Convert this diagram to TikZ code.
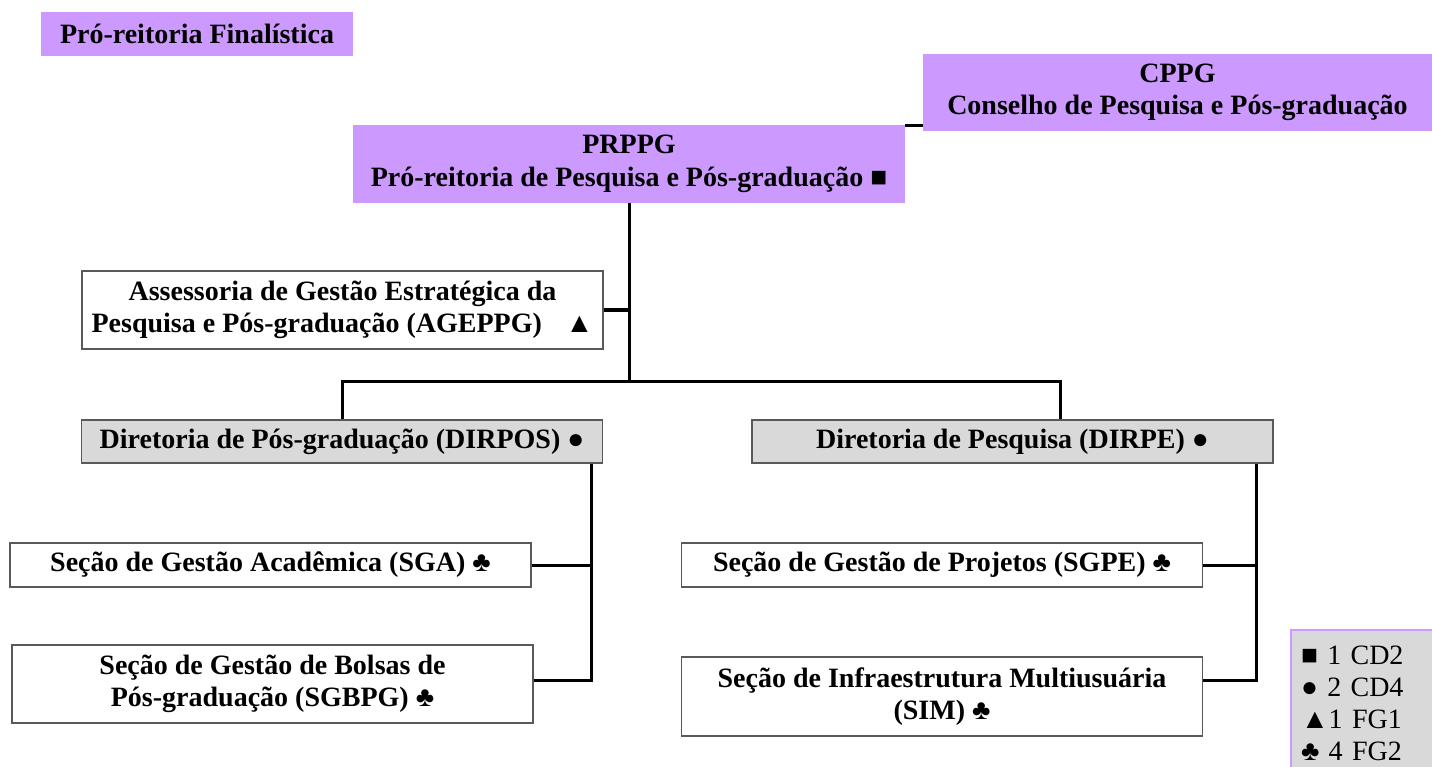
\documentclass[tikz,border=0pt]{standalone}
\usepackage{fontspec}
\setmainfont{Liberation Serif}
\definecolor{lilas}{RGB}{204,153,255}
\definecolor{cinza}{RGB}{217,217,217}
\begin{document}
\begin{tikzpicture}[x=1pt, y=-1pt,
		every node/.style={font=\fontsize{28}{32.5}\selectfont\bfseries, align=center, inner sep=2pt},
		roxo/.style={fill=lilas},
		caixa/.style={draw=black!65, line width=1.2pt, fill=white, minimum width=521pt},
		diretoria/.style={caixa, fill=cinza, minimum height=43pt},
		linha/.style={line width=3pt}]
		\useasboundingbox (0,0) rectangle (1432,767);
		\node[roxo, minimum width=312pt, minimum height=44pt] at (197,34) (fin) {Pró-reitoria Finalística};
		\node[roxo, minimum width=509pt, minimum height=77pt] at (1177.5,92.5) (cppg) {CPPG\\Conselho de Pesquisa e Pós-graduação};
		\node[roxo, minimum width=552pt, minimum height=78pt] at (629,164) (prppg) {PRPPG\\Pró-reitoria de Pesquisa e Pós-graduação ■};
		\node[caixa, minimum height=78pt] at (342.5,310) (agep) {Assessoria de Gestão Estratégica da\\Pesquisa e Pós-graduação (AGEPPG)\hspace{0.85em}▲};
		\node[diretoria] at (342,441.5) (dirpos) {Diretoria de Pós-graduação (DIRPOS) ●};
		\node[diretoria] at (1012.5,441.5) (dirpe) {Diretoria de Pesquisa (DIRPE) ●};
		\node[caixa, minimum height=44pt] at (270.5,565) (sga) {Seção de Gestão Acadêmica (SGA) ♣};
		\node[caixa, minimum height=78pt] at (272.5,684) (sgbpg) {Seção de Gestão de Bolsas de\\Pós-graduação (SGBPG) ♣};
		\node[caixa, minimum height=44pt] at (942,565) (sgpe) {Seção de Gestão de Projetos (SGPE) ♣};
		\node[caixa, minimum height=79pt] at (942,696.5) (sim) {Seção de Infraestrutura Multiusuária\\(SIM) ♣};
		\node[fill=cinza, draw=lilas, line width=2pt, anchor=north west, text width=122pt, align=left, inner xsep=10pt, inner ysep=16pt, font=\fontsize{28}{32}\selectfont] at (1290,629) (leg) {■ 1 CD2\\● 2 CD4\\▲1 FG1\\♣ 4 FG2};
		\coordinate (hub) at (629,381);
		\coordinate (jr) at (1060,381);
		\coordinate (lb) at (591,680);
		\coordinate (rb) at (1256,680);
		\draw[linha] ([yshift=-1pt]prppg.north east) -- ([yshift=-1pt]prppg.north east -| cppg.west);
		\draw[linha] (prppg.south -| hub) -- (hub);
		\draw[linha] (agep.east) -- (agep.east -| hub);
		\draw[linha] (dirpos.north) |- (jr) -- (jr |- dirpe.north);
		\draw[linha] (dirpos.south -| lb) -- (lb) -- (lb -| sgbpg.east);
		\draw[linha] (sga.east) -- (sga.east -| lb);
		\draw[linha] (dirpe.south -| rb) -- (rb) -- (rb -| sim.east);
		\draw[linha] (sgpe.east) -- (sgpe.east -| rb);
\end{tikzpicture}
\end{document}
